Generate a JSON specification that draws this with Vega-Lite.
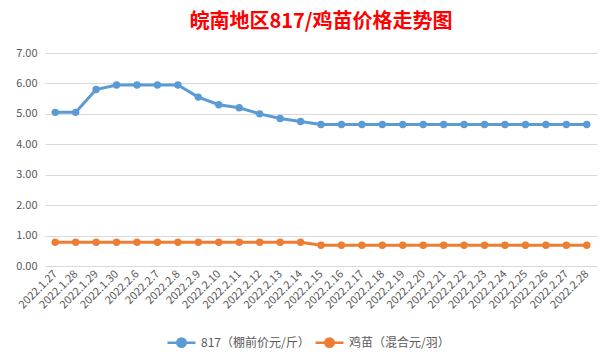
{
  "$schema": "https://vega.github.io/schema/vega-lite/v6.json",
  "width": 552,
  "height": 213,
  "autosize": {"type": "none"},
  "padding": {"left": 45, "top": 53, "right": 17, "bottom": 97},
  "background": "#ffffff",
  "title": {
    "text": "皖南地区817/鸡苗价格走势图",
    "font": "Noto Sans CJK SC",
    "fontSize": 20,
    "fontWeight": "bold",
    "color": "#ff0000",
    "anchor": "middle",
    "offset": 15
  },
  "config": {
    "view": {"stroke": null},
    "font": "Noto Sans CJK SC"
  },
  "data": {
    "values": [
      {"date": "2022.1.27", "series": "817（棚前价元/斤）", "price": 5.05},
      {"date": "2022.1.28", "series": "817（棚前价元/斤）", "price": 5.05},
      {"date": "2022.1.29", "series": "817（棚前价元/斤）", "price": 5.8},
      {"date": "2022.1.30", "series": "817（棚前价元/斤）", "price": 5.95},
      {"date": "2022.2.6", "series": "817（棚前价元/斤）", "price": 5.95},
      {"date": "2022.2.7", "series": "817（棚前价元/斤）", "price": 5.95},
      {"date": "2022.2.8", "series": "817（棚前价元/斤）", "price": 5.95},
      {"date": "2022.2.9", "series": "817（棚前价元/斤）", "price": 5.55},
      {"date": "2022.2.10", "series": "817（棚前价元/斤）", "price": 5.3},
      {"date": "2022.2.11", "series": "817（棚前价元/斤）", "price": 5.2},
      {"date": "2022.2.12", "series": "817（棚前价元/斤）", "price": 5.0},
      {"date": "2022.2.13", "series": "817（棚前价元/斤）", "price": 4.85},
      {"date": "2022.2.14", "series": "817（棚前价元/斤）", "price": 4.75},
      {"date": "2022.2.15", "series": "817（棚前价元/斤）", "price": 4.65},
      {"date": "2022.2.16", "series": "817（棚前价元/斤）", "price": 4.65},
      {"date": "2022.2.17", "series": "817（棚前价元/斤）", "price": 4.65},
      {"date": "2022.2.18", "series": "817（棚前价元/斤）", "price": 4.65},
      {"date": "2022.2.19", "series": "817（棚前价元/斤）", "price": 4.65},
      {"date": "2022.2.20", "series": "817（棚前价元/斤）", "price": 4.65},
      {"date": "2022.2.21", "series": "817（棚前价元/斤）", "price": 4.65},
      {"date": "2022.2.22", "series": "817（棚前价元/斤）", "price": 4.65},
      {"date": "2022.2.23", "series": "817（棚前价元/斤）", "price": 4.65},
      {"date": "2022.2.24", "series": "817（棚前价元/斤）", "price": 4.65},
      {"date": "2022.2.25", "series": "817（棚前价元/斤）", "price": 4.65},
      {"date": "2022.2.26", "series": "817（棚前价元/斤）", "price": 4.65},
      {"date": "2022.2.27", "series": "817（棚前价元/斤）", "price": 4.65},
      {"date": "2022.2.28", "series": "817（棚前价元/斤）", "price": 4.65},
      {"date": "2022.1.27", "series": "鸡苗（混合元/羽）", "price": 0.78},
      {"date": "2022.1.28", "series": "鸡苗（混合元/羽）", "price": 0.78},
      {"date": "2022.1.29", "series": "鸡苗（混合元/羽）", "price": 0.78},
      {"date": "2022.1.30", "series": "鸡苗（混合元/羽）", "price": 0.78},
      {"date": "2022.2.6", "series": "鸡苗（混合元/羽）", "price": 0.78},
      {"date": "2022.2.7", "series": "鸡苗（混合元/羽）", "price": 0.78},
      {"date": "2022.2.8", "series": "鸡苗（混合元/羽）", "price": 0.78},
      {"date": "2022.2.9", "series": "鸡苗（混合元/羽）", "price": 0.78},
      {"date": "2022.2.10", "series": "鸡苗（混合元/羽）", "price": 0.78},
      {"date": "2022.2.11", "series": "鸡苗（混合元/羽）", "price": 0.78},
      {"date": "2022.2.12", "series": "鸡苗（混合元/羽）", "price": 0.78},
      {"date": "2022.2.13", "series": "鸡苗（混合元/羽）", "price": 0.78},
      {"date": "2022.2.14", "series": "鸡苗（混合元/羽）", "price": 0.78},
      {"date": "2022.2.15", "series": "鸡苗（混合元/羽）", "price": 0.68},
      {"date": "2022.2.16", "series": "鸡苗（混合元/羽）", "price": 0.68},
      {"date": "2022.2.17", "series": "鸡苗（混合元/羽）", "price": 0.68},
      {"date": "2022.2.18", "series": "鸡苗（混合元/羽）", "price": 0.68},
      {"date": "2022.2.19", "series": "鸡苗（混合元/羽）", "price": 0.68},
      {"date": "2022.2.20", "series": "鸡苗（混合元/羽）", "price": 0.68},
      {"date": "2022.2.21", "series": "鸡苗（混合元/羽）", "price": 0.68},
      {"date": "2022.2.22", "series": "鸡苗（混合元/羽）", "price": 0.68},
      {"date": "2022.2.23", "series": "鸡苗（混合元/羽）", "price": 0.68},
      {"date": "2022.2.24", "series": "鸡苗（混合元/羽）", "price": 0.68},
      {"date": "2022.2.25", "series": "鸡苗（混合元/羽）", "price": 0.68},
      {"date": "2022.2.26", "series": "鸡苗（混合元/羽）", "price": 0.68},
      {"date": "2022.2.27", "series": "鸡苗（混合元/羽）", "price": 0.68},
      {"date": "2022.2.28", "series": "鸡苗（混合元/羽）", "price": 0.68}
    ]
  },
  "encoding": {
    "x": {
      "field": "date",
      "type": "nominal",
      "sort": null,
      "scale": {"type": "point", "padding": 0.5},
      "axis": {
        "title": null,
        "labelAngle": -45,
        "labelAlign": "right",
        "labelBaseline": "middle",
        "labelFont": "Noto Sans CJK SC",
        "labelFontSize": 11,
        "labelColor": "#595959",
        "labelPadding": 6,
        "ticks": false,
        "domain": false,
        "grid": false
      }
    },
    "y": {
      "field": "price",
      "type": "quantitative",
      "scale": {"domain": [0, 7], "nice": false},
      "axis": {
        "title": null,
        "values": [0, 1, 2, 3, 4, 5, 6, 7],
        "format": ".2f",
        "labelFont": "Noto Sans CJK SC",
        "labelFontSize": 11,
        "labelColor": "#595959",
        "labelPadding": 8,
        "ticks": false,
        "domain": false,
        "grid": true,
        "gridColor": "#d9d9d9",
        "gridWidth": 1
      }
    },
    "color": {
      "field": "series",
      "type": "nominal",
      "sort": ["817（棚前价元/斤）", "鸡苗（混合元/羽）"],
      "scale": {"range": ["#5b9bd5", "#ed7d31"]},
      "legend": {
        "title": null,
        "orient": "none",
        "legendX": 121,
        "legendY": 274,
        "padding": 0,
        "direction": "horizontal",
        "labelFont": "Noto Sans CJK SC",
        "labelFontSize": 12,
        "labelColor": "#595959",
        "symbolType": "M-1,0H1M-0.3,0A0.3,0.3 0 1,1 0.3,0A0.3,0.3 0 1,1 -0.3,0Z",
        "symbolSize": 784,
        "symbolStrokeWidth": 2.5,
        "symbolOpacity": 1,
        "columnPadding": 0,
        "labelOffset": 4
      }
    }
  },
  "layer": [
    {"mark": {"type": "line", "strokeWidth": 3}},
    {"mark": {"type": "point", "filled": true, "size": 55, "opacity": 1}}
  ]
}
